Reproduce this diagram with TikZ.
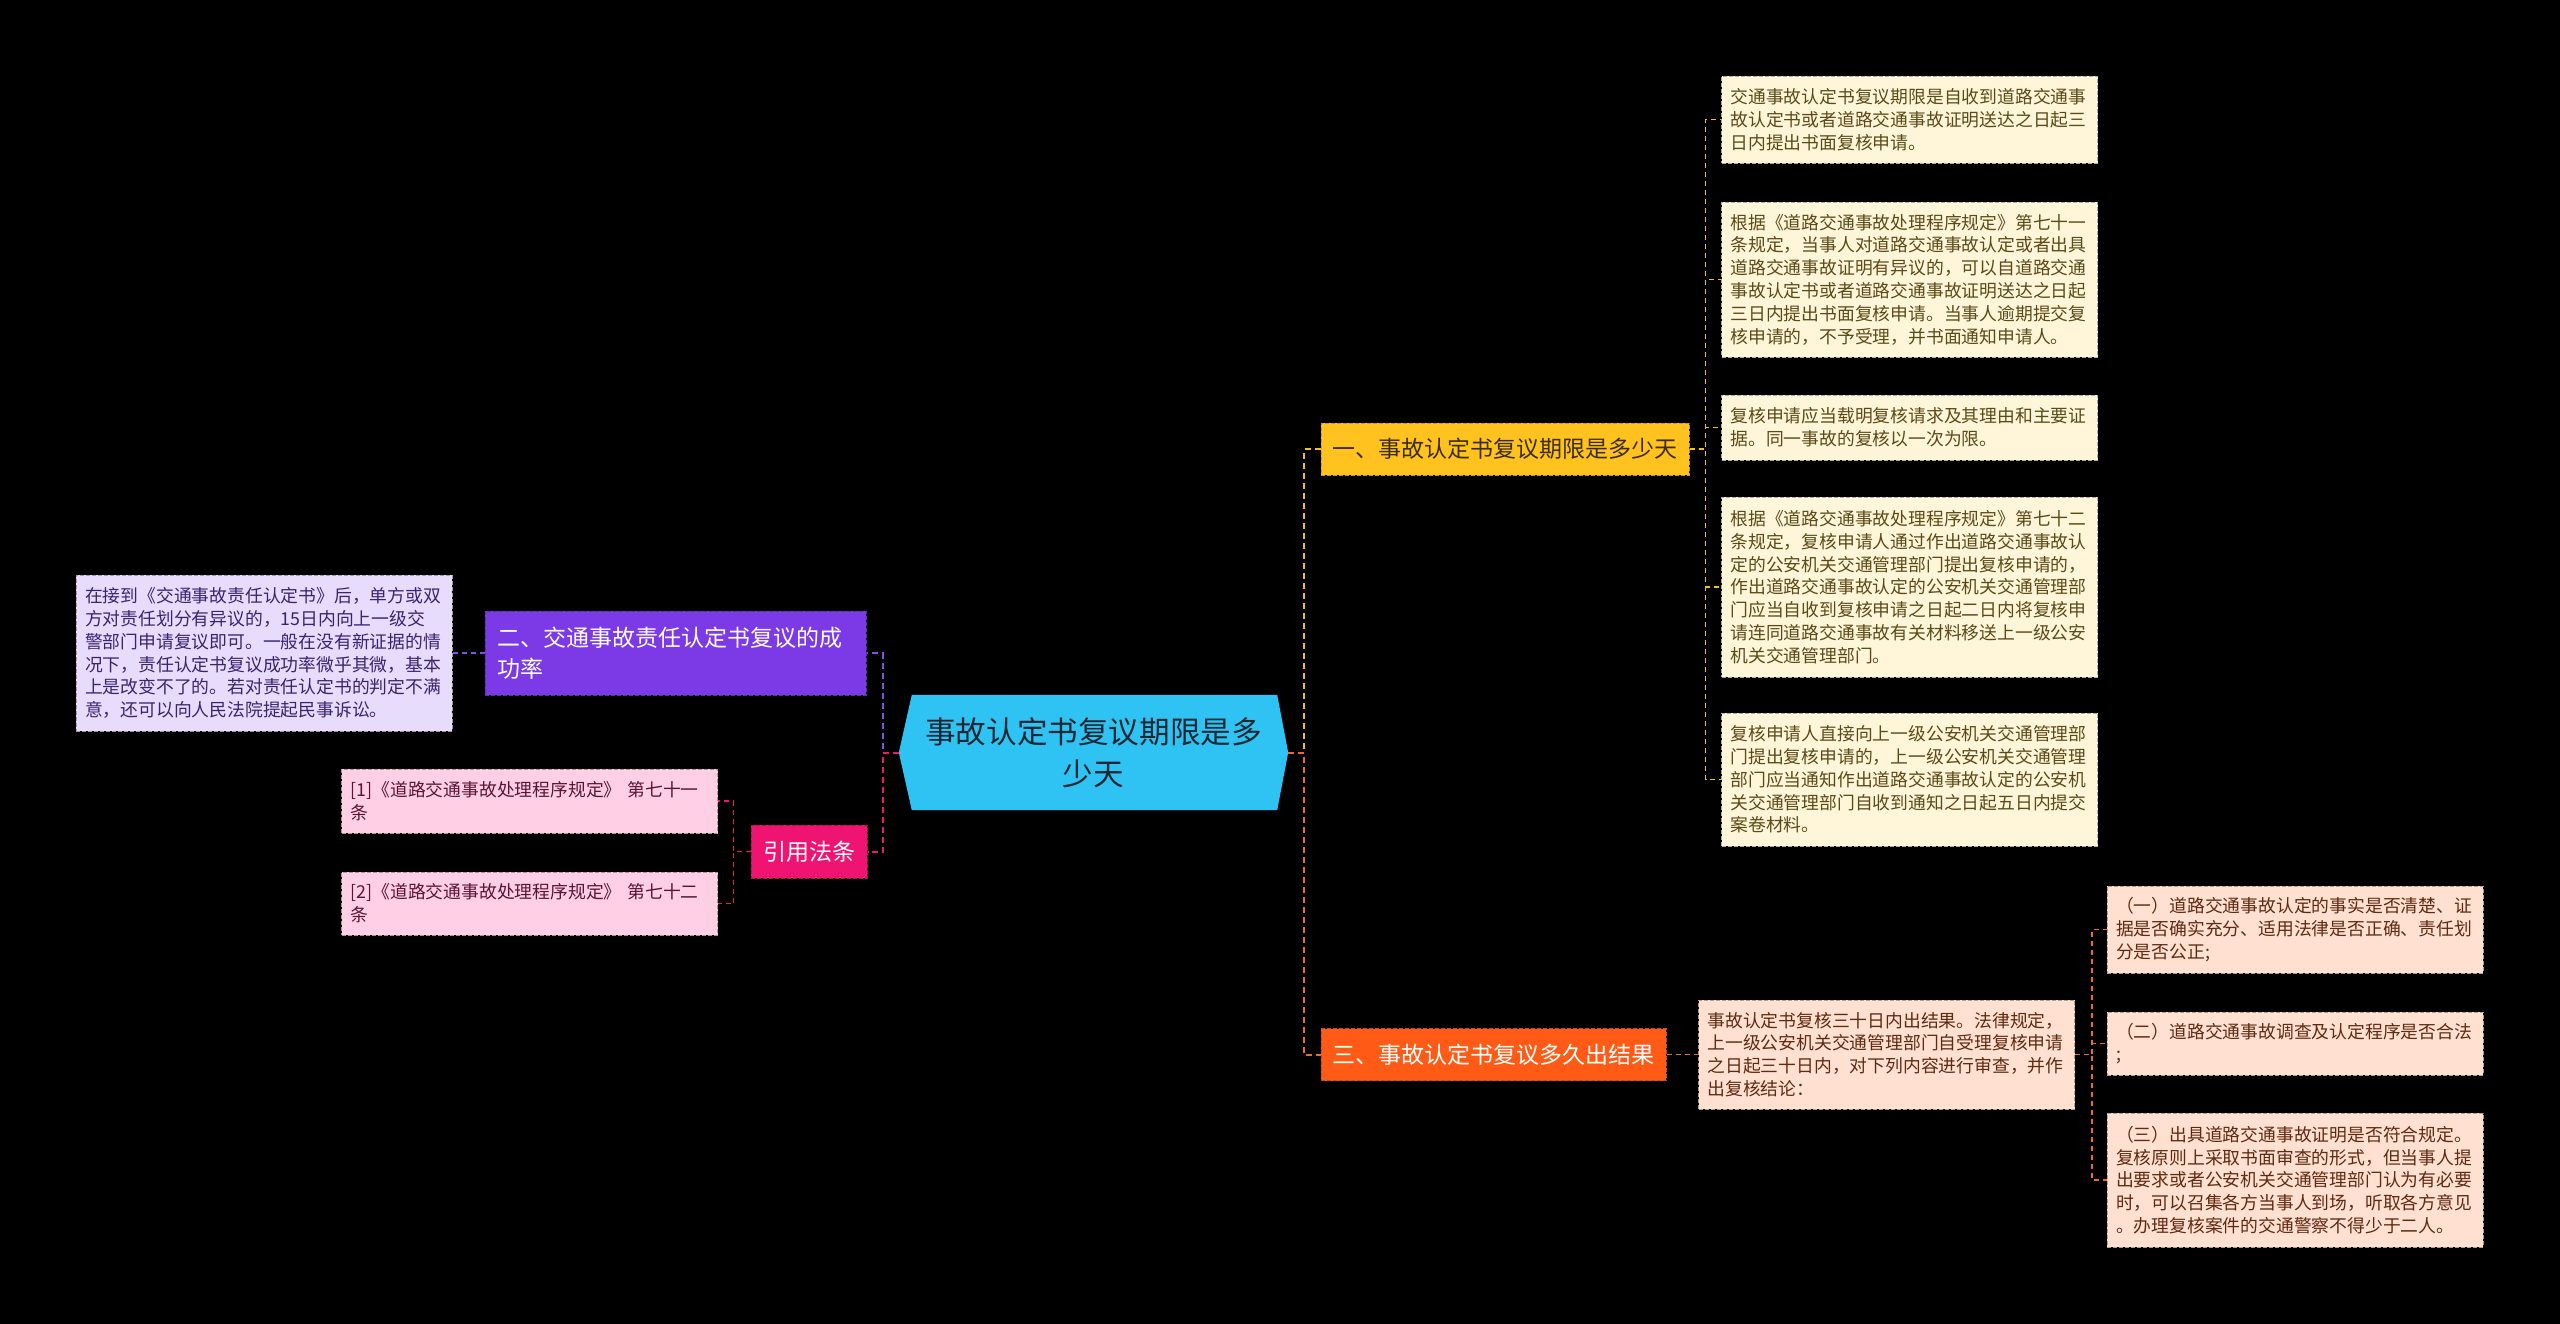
\documentclass[tikz,border=0pt]{standalone}
\usepackage{fontspec}
\setmainfont{Noto Sans CJK SC}
\usepackage{tikz}
\usetikzlibrary{positioning}
\pgfdeclarelayer{canvas}
\pgfdeclarelayer{shape}
\pgfsetlayers{canvas,shape,main}

\definecolor{rootbg}{HTML}{2EC3F2}
\definecolor{roottx}{HTML}{1B2733}
\definecolor{limbg}{HTML}{FFC21E}
\definecolor{limtx}{HTML}{3A2D08}
\definecolor{ratebg}{HTML}{7C3AE6}
\definecolor{resbg}{HTML}{FF5B16}
\definecolor{refsbg}{HTML}{EF1472}
\definecolor{ylw}{HTML}{F3C21C}
\definecolor{org}{HTML}{EE6A2A}
\definecolor{pur}{HTML}{8B4BE8}
\definecolor{pnk}{HTML}{E81A6E}
\definecolor{creambg}{HTML}{FFF5D8}
\definecolor{creamtx}{HTML}{5B4A18}
\definecolor{peachbg}{HTML}{FFE0D1}
\definecolor{peachtx}{HTML}{5E2A12}
\definecolor{lilacbg}{HTML}{E7DCFB}
\definecolor{lilactx}{HTML}{3C2370}
\definecolor{rosebg}{HTML}{FFD0E5}
\definecolor{rosetx}{HTML}{5A1533}

\begin{document}
\begin{tikzpicture}[x=1pt, y=-1pt,
    every node/.style={font=\fontsize{17.8}{22.8}\selectfont, inner xsep=9pt, inner ysep=0pt},
    box/.style={draw, dash pattern=on 4pt off 2pt, line width=1pt},
    leaf/.style={box, text width=358pt, align=left},
    cream/.style={leaf, fill=creambg, draw=creambg!70!black, text=creamtx},
    peach/.style={leaf, fill=peachbg, draw=peachbg!70!black, text=peachtx},
    lilac/.style={leaf, fill=lilacbg, draw=lilacbg!70!black, text=lilactx},
    rose/.style={leaf, fill=rosebg, draw=rosebg!70!black, text=rosetx},
    branch/.style={box, font=\fontsize{23}{30.7}\selectfont, align=left, minimum height=52pt},
    link/.style={dash pattern=on 6pt off 4pt, line width=2pt},
    twig/.style={dash pattern=on 5pt off 4pt, line width=1.5pt}]
        \useasboundingbox (0,0) rectangle (2560,1323);
        \begin{pgfonlayer}{canvas}
            \fill[black] (-6,-6) rectangle (2566,1329);
        \end{pgfonlayer}

        \node[font=\fontsize{30.6}{42}\selectfont, align=center, text=roottx, minimum width=389pt, minimum height=115pt] (root) at (1093.5,752.5) {事故认定书复议期限是多\\少天};
        \begin{pgfonlayer}{shape}
            \fill[rootbg] ([xshift=13pt]root.north west) -- ([xshift=-11pt]root.north east) -- (root.east) -- ([xshift=-11pt]root.south east) -- ([xshift=13pt]root.south west) -- (root.west) -- cycle;
        \end{pgfonlayer}

        \node[branch, fill=limbg, draw=limbg!80!black, text=limtx, minimum width=368pt] (lim) at (1505,449) {一、事故认定书复议期限是多少天};
        \node[branch, fill=ratebg, draw=ratebg!75!black, text=white, text width=357pt, inner xsep=12pt, minimum height=84pt] (rate) at (675.5,653) {二、交通事故责任认定书复议的成\\功率};
        \node[branch, fill=resbg, draw=resbg!80!black, text=white, minimum width=345pt] (res) at (1493.5,1054.5) {三、事故认定书复议多久出结果};
        \node[branch, fill=refsbg, draw=refsbg!75!black, text=white, minimum width=116pt, minimum height=53pt] (refs) at (809,851.5) {引用法条};

        \node[cream, minimum height=87pt] (lim1) at (1909.5,119.5) {交通事故认定书复议期限是自收到道路交通事\\故认定书或者道路交通事故证明送达之日起三\\日内提出书面复核申请。};
        \node[cream, minimum height=155pt] (lim2) at (1909.5,279.5) {根据《道路交通事故处理程序规定》第七十一\\条规定，当事人对道路交通事故认定或者出具\\道路交通事故证明有异议的，可以自道路交通\\事故认定书或者道路交通事故证明送达之日起\\三日内提出书面复核申请。当事人逾期提交复\\核申请的，不予受理，并书面通知申请人。};
        \node[cream, minimum height=65pt] (lim3) at (1909.5,427.5) {复核申请应当载明复核请求及其理由和主要证\\据。同一事故的复核以一次为限。};
        \node[cream, minimum height=180pt] (lim4) at (1909.5,587) {根据《道路交通事故处理程序规定》第七十二\\条规定，复核申请人通过作出道路交通事故认\\定的公安机关交通管理部门提出复核申请的，\\作出道路交通事故认定的公安机关交通管理部\\门应当自收到复核申请之日起二日内将复核申\\请连同道路交通事故有关材料移送上一级公安\\机关交通管理部门。};
        \node[cream, minimum height=133pt] (lim5) at (1909.5,779.5) {复核申请人直接向上一级公安机关交通管理部\\门提出复核申请的，上一级公安机关交通管理\\部门应当通知作出道路交通事故认定的公安机\\关交通管理部门自收到通知之日起五日内提交\\案卷材料。};

        \node[lilac, minimum height=156pt] (note) at (264,653) {在接到《交通事故责任认定书》后，单方或双\\方对责任划分有异议的，15日内向上一级交\\警部门申请复议即可。一般在没有新证据的情\\况下，责任认定书复议成功率微乎其微，基本\\上是改变不了的。若对责任认定书的判定不满\\意，还可以向人民法院提起民事诉讼。};

        \node[rose, minimum height=64pt] (ref1) at (529.5,801) {[1]《道路交通事故处理程序规定》 第七十一\\条};
        \node[rose, minimum height=63pt] (ref2) at (529.5,903.5) {[2]《道路交通事故处理程序规定》 第七十二\\条};

        \node[peach, minimum height=109pt] (ans) at (1886.5,1054.5) {事故认定书复核三十日内出结果。法律规定，\\上一级公安机关交通管理部门自受理复核申请\\之日起三十日内，对下列内容进行审查，并作\\出复核结论：};
        \node[peach, minimum height=87pt] (ck1) at (2295,929.5) {（一）道路交通事故认定的事实是否清楚、证\\据是否确实充分、适用法律是否正确、责任划\\分是否公正;};
        \node[peach, minimum height=63pt] (ck2) at (2295,1043.5) {（二）道路交通事故调查及认定程序是否合法\\;};
        \node[peach, minimum height=134pt] (ck3) at (2295,1180) {（三）出具道路交通事故证明是否符合规定。\\复核原则上采取书面审查的形式，但当事人提\\出要求或者公安机关交通管理部门认为有必要\\时，可以召集各方当事人到场，听取各方意见\\。办理复核案件的交通警察不得少于二人。};

        \draw[link, ylw] (root.east) -- ++(16,0) |- (lim.west);
        \draw[link, org] (root.east) -- ++(16,0) |- (res.west);
        \draw[link, pur] (root.west) -- ++(-16,0) |- (rate.east);
        \draw[link, pnk] (root.west) -- ++(-16,0) |- (refs.east);

        \foreach \n in {lim1,lim2,lim3,lim4,lim5}
            \draw[twig, ylw] (lim.east) -- ++(16,0) |- (\n.west);
        \draw[twig, pur] (rate.west) -- (note.east);
        \foreach \n in {ref1,ref2}
            \draw[twig, pnk] (refs.west) -- ++(-17,0) |- (\n.east);
        \draw[twig, org] (res.east) -- (ans.west);
        \foreach \n in {ck1,ck2,ck3}
            \draw[twig, org] (ans.east) -- ++(17,0) |- (\n.west);
    \end{tikzpicture}
\end{document}
